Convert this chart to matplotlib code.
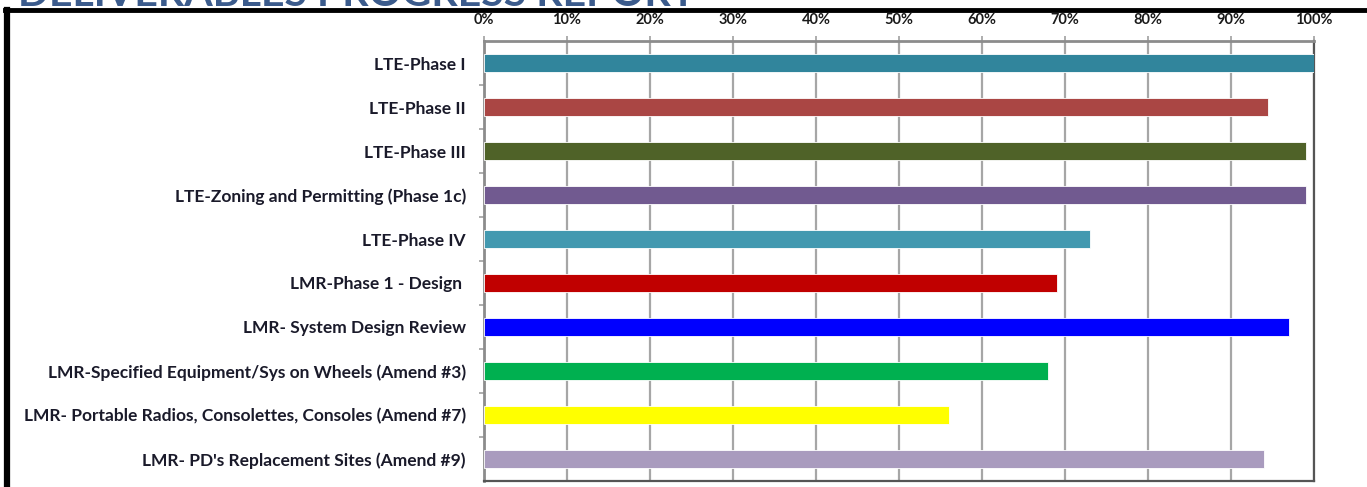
#!/usr/bin/env python3

import matplotlib
matplotlib.use("Agg")
import matplotlib.pyplot as plt
from matplotlib.ticker import FuncFormatter

# Data
categories = [
    "LTE-Phase I",
    "LTE-Phase II",
    "LTE-Phase III",
    "LTE-Zoning and Permitting (Phase 1c)",
    "LTE-Phase IV",
    "LMR-Phase 1 - Design ",
    "LMR- System Design Review",
    "LMR-Specified Equipment/Sys on Wheels (Amend #3)",
    "LMR- Portable Radios, Consolettes, Consoles (Amend #7)",
    "LMR- PD's Replacement Sites (Amend #9)",
]
progress = [100, 94.5, 99, 99, 73, 69, 97, 68, 56, 94]
bar_colors = ["#31859C", "#AA4644", "#4F6228", "#715A90", "#4399B0",
              "#C00000", "#0000FF", "#00B050", "#FFFF00", "#A99BBE"]
x_ticks = list(range(0, 101, 10))

plt.rcParams['font.family'] = ['Lato', 'DejaVu Sans']

fig = plt.figure(figsize=(13.67, 4.87), dpi=100)
fig.patch.set_facecolor("white")

# cut-off title above the frame
fig.text(18 / 1367, 1 - 6 / 487, "DELIVERABLES PROGRESS REPORT",
         fontsize=29.5, fontweight="bold", color="#3B5B8C",
         ha="left", va="baseline")

# black frame of the slide box
fig.add_artist(plt.Line2D([7 / 1367, 7 / 1367], [0, 1 - 10 / 487],
                          transform=fig.transFigure, color="black", lw=4.5))
fig.add_artist(plt.Line2D([5 / 1367, 1], [1 - 10 / 487, 1 - 10 / 487],
                          transform=fig.transFigure, color="black", lw=3.5))

ax = fig.add_axes([484 / 1367, 1 - 481 / 487, 830 / 1367, 440 / 487])
y = list(range(len(categories)))
ax.barh(y, progress, height=0.43, color=bar_colors,
        edgecolor="white", linewidth=0.6, zorder=3)

ax.set_xlim(0, 100)
ax.set_ylim(len(categories) - 0.5, -0.5)
ax.xaxis.tick_top()
ax.set_xticks(x_ticks)
ax.xaxis.set_major_formatter(FuncFormatter(lambda v, p: f"{int(v)}%"))
ax.tick_params(axis="x", length=3.5, width=1.2, color="#A0A0A0",
               labelsize=10.5, pad=6.5, labelcolor="#1A1A1A")
for lab in ax.get_xticklabels():
    lab.set_fontweight("bold")

ax.set_yticks(y)
ax.set_yticklabels(categories, fontweight="bold", fontsize=12.5,
                   color="#1A1A2A")
ax.set_yticks([i + 0.5 for i in range(len(categories) - 1)], minor=True)
ax.tick_params(axis="y", which="major", length=0, pad=13)
ax.tick_params(axis="y", which="minor", length=3.5, width=1.2, color="#A0A0A0")

ax.xaxis.grid(True, color="#A6A6A6", linewidth=1.6, zorder=0)
ax.set_axisbelow(True)

ax.spines["top"].set_color("#8C8C8C")
ax.spines["top"].set_linewidth(2)
ax.spines["left"].set_color("#8C8C8C")
ax.spines["left"].set_linewidth(2)
ax.spines["right"].set_color("#555555")
ax.spines["right"].set_linewidth(1.6)
ax.spines["bottom"].set_color("#555555")
ax.spines["bottom"].set_linewidth(1.6)

fig.savefig("out.png", dpi=100)
